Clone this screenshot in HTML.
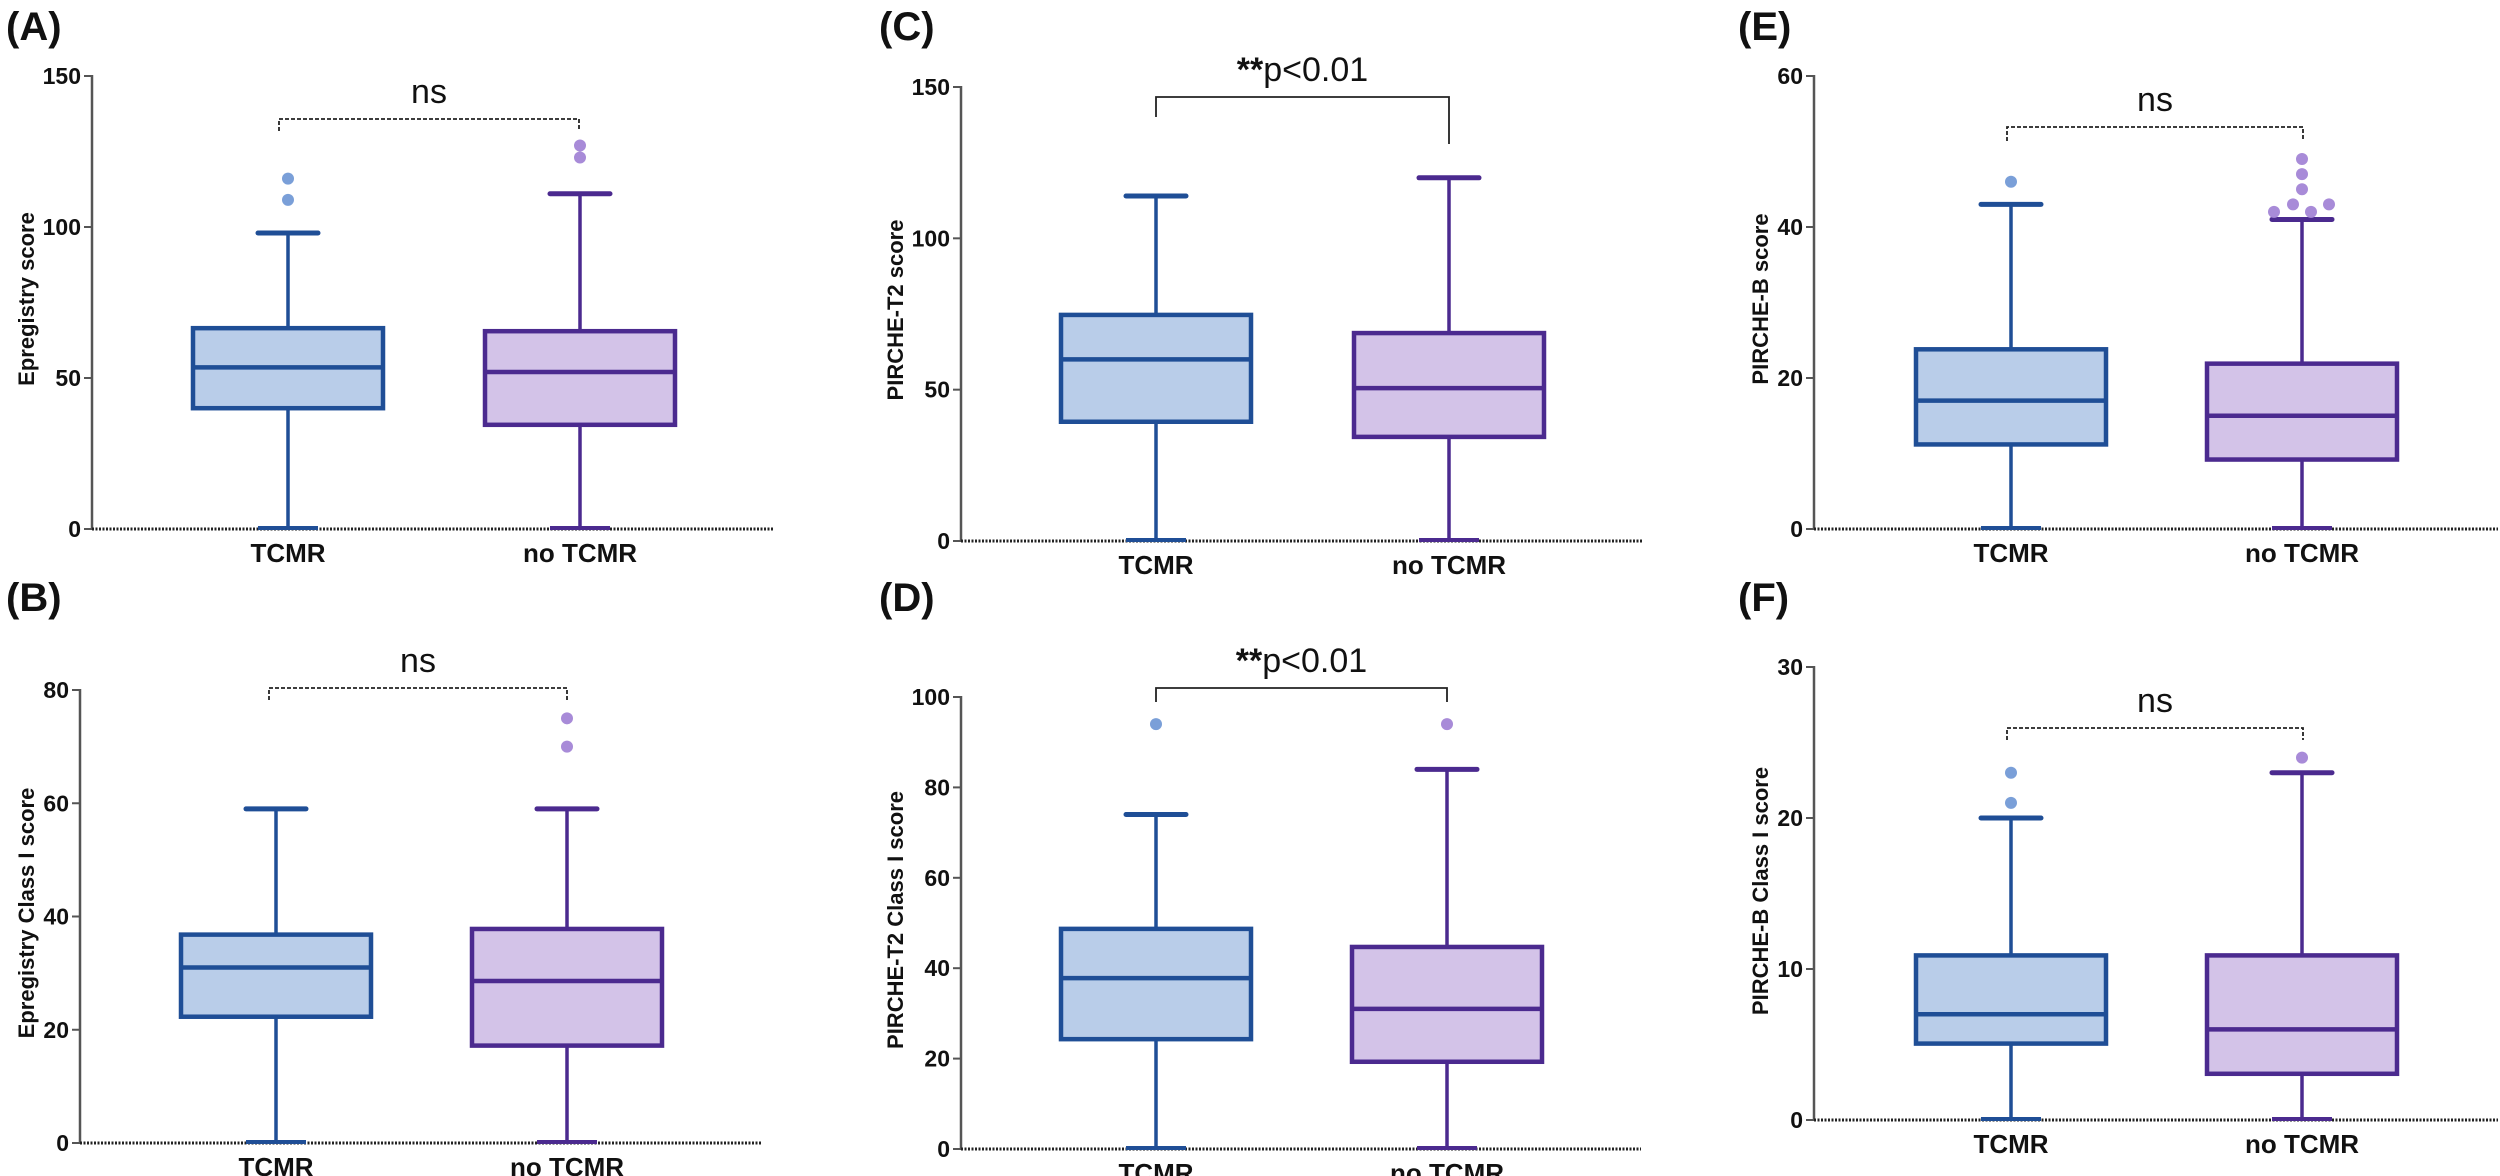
<!DOCTYPE html>
<html><head><meta charset="utf-8"><style>
html,body{margin:0;padding:0;background:#fff;}
svg{display:block;font-family:"Liberation Sans",Arial,sans-serif;}
</style></head><body>
<svg id="fig" width="2500" height="1176" viewBox="0 0 2500 1176" xmlns="http://www.w3.org/2000/svg"></svg>
<script>
// ---- data (min, q1, median, q3, max) ----
const categories = ["TCMR", "no TCMR"];
const aTCMR = [0, 40, 53.5, 66.5, 98];
const aNo = [0, 34.5, 52, 65.5, 111];
const aOutT = [116, 109];
const aOutN = [127, 123];
const aTicks = [0, 50, 100, 150];

const bTCMR = [0, 22.3, 31, 36.8, 59];
const bNo = [0, 17.2, 28.6, 37.8, 59];
const bOutT = [];
const bOutN = [75, 70];
const bTicks = [0, 20, 40, 60, 80];

const cTCMR = [0, 39.4, 60, 74.7, 114];
const cNo = [0, 34.4, 50.5, 68.7, 120];
const cOutT = [];
const cOutN = [];
const cTicks = [0, 50, 100, 150];

const dTCMR = [0, 24.3, 37.8, 48.7, 74];
const dNo = [0, 19.3, 31, 44.7, 84];
const dOutT = [94];
const dOutN = [94];
const dTicks = [0, 20, 40, 60, 80, 100];

const eTCMR = [0, 11.2, 17, 23.8, 43];
const eNo = [0, 9.2, 15, 21.9, 41];
const eOutT = [46];
const eOutN = [42, 43, 42, 43, 45, 47, 49];
const eTicks = [0, 20, 40, 60];

const fTCMR = [0, 5.06, 7, 10.9, 20];
const fNo = [0, 3.06, 6, 10.9, 23];
const fOutT = [23, 21];
const fOutN = [24];
const fTicks = [0, 10, 20, 30];

const NS = "http://www.w3.org/2000/svg";
const svg = document.getElementById('fig');
function mk(tag, attrs, parent){
  const e = document.createElementNS(NS, tag);
  for (const k in attrs) e.setAttribute(k, attrs[k]);
  (parent||svg).appendChild(e);
  return e;
}
const BLUE = {fill:"#b9cde9", stroke:"#1f4e96", dot:"#7a9fd8"};
const PURP = {fill:"#d3c3e8", stroke:"#4b2a8f", dot:"#a88bd8"};
const jitterE = [-28, -9, 9, 27, 0, 0, 0];
const jitterF = [-28, -9, 9, 27, 0, 0, 0];

function panel(o){
  const g = mk('g', {});
  
  
  const ymax = o.ticks[o.ticks.length-1];
  const y = v => o.y0 - (v/ymax)*(o.y0 - o.yTop);
  // panel label
  const pl = mk('text', {x:o.lx, y:o.ly, 'font-size':40, 'font-weight':'bold', fill:'#111'}, g);
  pl.textContent = '(' + o.id + ')';
  
  
  // y axis
  const ax = mk('line', {x1:o.ax, y1:y(ymax)-1, x2:o.ax, y2:o.y0, stroke:'#555', 'stroke-width':2.5}, g);
  
  
  o.ticks.forEach(t => {
    mk('line', {x1:o.ax-8, y1:y(t), x2:o.ax, y2:y(t), stroke:'#555', 'stroke-width':2}, g);
    const tl = mk('text', {x:o.ax-11, y:y(t)+8, 'font-size':23, 'font-weight':'bold', 'text-anchor':'end', fill:'#111'}, g);
    tl.textContent = t;
    
    
  });
  // y title
  const yt = mk('text', {x:0, y:0, 'font-size':22, 'font-weight':'bold', 'text-anchor':'middle', fill:'#111',
    transform:`translate(${o.tx+8},${o.ty}) rotate(-90)`}, g);
  yt.textContent = o.title;
  
  
  // baseline
  const bl = mk('line', {x1:o.ax, y1:o.y0, x2:o.axEnd, y2:o.y0, stroke:'#222', 'stroke-width':3, 'stroke-dasharray':'2 1.5'}, g);
  
  
  // boxes
  [[o.s1, o.o1, BLUE, o.c1, o.j1], [o.s2, o.o2, PURP, o.c2, o.j2]].forEach((s, i) => {
    const [mn, q1, md, q3, mx] = s[0];
    const c = s[2], cx = s[3];
    const bg = mk('g', {}, g);
    
    
    mk('line', {x1:cx, y1:y(mx), x2:cx, y2:y(q3), stroke:c.stroke, 'stroke-width':3.5}, bg);
    mk('line', {x1:cx, y1:y(q1), x2:cx, y2:y(mn), stroke:c.stroke, 'stroke-width':3.5}, bg);
    mk('line', {x1:cx-30, y1:y(mx), x2:cx+30, y2:y(mx), stroke:c.stroke, 'stroke-width':5, 'stroke-linecap':'round'}, bg);
    mk('line', {x1:cx-30, y1:y(mn)-1, x2:cx+30, y2:y(mn)-1, stroke:c.stroke, 'stroke-width':4}, bg);
    mk('rect', {x:cx-95, y:y(q3), width:190, height:y(q1)-y(q3), fill:c.fill, stroke:c.stroke, 'stroke-width':4.5}, bg);
    mk('line', {x1:cx-95, y1:y(md), x2:cx+95, y2:y(md), stroke:c.stroke, 'stroke-width':4.5}, bg);
    s[1].forEach((v, k) => {
      const dx = s[4] ? s[4][k] : 0;
      const d = mk('circle', {cx:cx+dx, cy:y(v), r:6, fill:c.dot}, bg);
      
      
    });
    const xl = mk('text', {x:cx, y:o.y0+33, 'font-size':26, 'font-weight':'bold', 'text-anchor':'middle', fill:'#111'}, g);
    xl.textContent = categories[i];
    
    
  });
  // bracket
  const dash = o.sig ? 'none' : '4 2';
  const br = mk('path', {d:`M${o.bl},${o.bd1} V${o.by} H${o.br} V${o.bd2}`, fill:'none', stroke:'#222', 'stroke-width':1.8, 'stroke-dasharray':dash}, g);
  
  
  const st = mk('text', {x:(o.bl+o.br)/2, y:o.by-16, 'font-size':34, 'text-anchor':'middle', fill:'#111'}, g);
  if (o.sig) {
    const b = mk('tspan', {'font-weight':'bold'}, st); b.textContent = '**';
    const p = mk('tspan', {}, st); p.textContent = 'p<0.01';
  } else st.textContent = 'ns';
  
  
}

panel({id:'A', lx:6, ly:40, ax:92, yTop:76, y0:529, axEnd:773, ticks:aTicks, title:'Epregistry score', tx:26, ty:299,
  s1:aTCMR, o1:aOutT, c1:288, s2:aNo, o2:aOutN, c2:580, bl:279, br:579, by:119, bd1:131, bd2:131, sig:false});
panel({id:'B', lx:6, ly:611, ax:80, yTop:690, y0:1143, axEnd:761, ticks:bTicks, title:'Epregistry Class I  score', tx:26, ty:913,
  s1:bTCMR, o1:bOutT, c1:276, s2:bNo, o2:bOutN, c2:567, bl:269, br:567, by:688, bd1:700, bd2:700, sig:false});
panel({id:'C', lx:879, ly:40, ax:961, yTop:87, y0:541, axEnd:1643, ticks:cTicks, title:'PIRCHE-T2 score', tx:895, ty:310,
  s1:cTCMR, o1:cOutT, c1:1156, s2:cNo, o2:cOutN, c2:1449, bl:1156, br:1449, by:97, bd1:117, bd2:144, sig:true});
panel({id:'D', lx:879, ly:611, ax:961, yTop:697, y0:1149, axEnd:1641, ticks:dTicks, title:'PIRCHE-T2 Class I  score', tx:895, ty:920,
  s1:dTCMR, o1:dOutT, c1:1156, s2:dNo, o2:dOutN, c2:1447, bl:1156, br:1447, by:688, bd1:702, bd2:702, sig:true});
panel({id:'E', lx:1738, ly:40, ax:1814, yTop:76, y0:529, axEnd:2498, ticks:eTicks, title:'PIRCHE-B score', tx:1760, ty:299,
  s1:eTCMR, o1:eOutT, c1:2011, s2:eNo, o2:eOutN, c2:2302, j2:jitterE, bl:2007, br:2303, by:127, bd1:141, bd2:141, sig:false});
panel({id:'F', lx:1738, ly:611, ax:1814, yTop:667, y0:1120, axEnd:2498, ticks:fTicks, title:'PIRCHE-B Class I  score', tx:1760, ty:891,
  s1:fTCMR, o1:fOutT, c1:2011, s2:fNo, o2:fOutN, c2:2302, bl:2007, br:2303, by:728, bd1:740, bd2:740, sig:false});
</script>
</body></html>
